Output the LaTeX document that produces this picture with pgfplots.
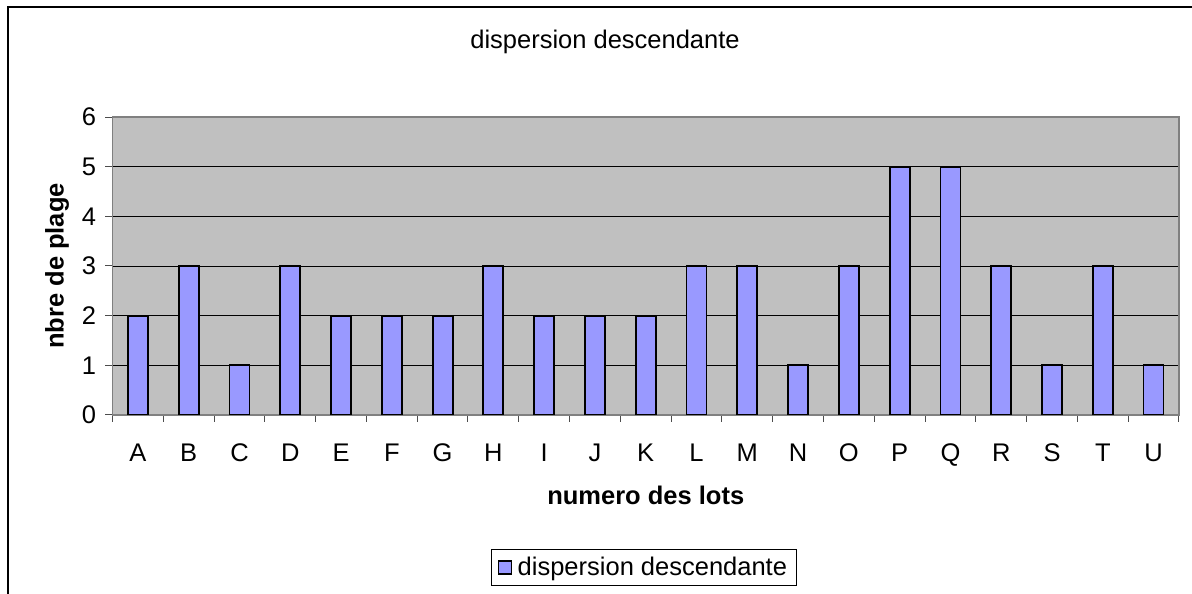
\documentclass[border=0pt]{standalone}
\usepackage{pgfplots}
\pgfplotsset{compat=1.18}
\usepackage{fontspec}
\setmainfont{Liberation Sans}
\definecolor{barblue}{HTML}{9999FF}
\definecolor{plotgray}{HTML}{C0C0C0}
\definecolor{framegray}{HTML}{808080}
\begin{document}
\begin{tikzpicture}
\useasboundingbox (0pt,0pt) rectangle (1192pt,594pt);
\draw[line width=2pt] (8pt,0pt) -- (8pt,587pt) -- (1192pt,587pt);
\node[font=\fontsize{25.5}{30}\selectfont] at (605pt,552pt) {dispersion descendante};
\node[font=\fontsize{25.5}{30}\selectfont\bfseries, rotate=90] at (57pt,328pt) {nbre de plage};
\begin{axis}[
  at={(112.5pt,179pt)}, anchor=south west,
  width=1066.5pt, height=298pt, scale only axis,
  xmin=-0.5, xmax=20.5, ymin=0, ymax=6,
  axis background/.style={fill=plotgray},
  axis line style={framegray, line width=1.2pt},
  xtick={0,...,20},
  xticklabels={A,B,C,D,E,F,G,H,I,J,K,L,M,N,O,P,Q,R,S,T,U},
  major x tick style={draw=none},
  minor xtick={-0.5,0.5,...,20.5},
  minor x tick style={black!70, line width=1pt},
  minor tick length=7pt,
  ytick={0,...,6},
  major y tick style={black!70, line width=1pt},
  major tick length=7pt,
  tick align=outside,
  xtick pos=bottom, ytick pos=left,
  ymajorgrids, grid style={black, line width=0.8pt},
  tick label style={font=\fontsize{25.5}{30}\selectfont},
  /pgf/number format/assume math mode=true,
  xticklabel style={yshift=-18pt},
  yticklabel style={xshift=-6pt},
  xlabel={\textbf{numero des lots}},
  label style={font=\fontsize{25.5}{30}\selectfont},
  xlabel style={at={(0.5,0)}, anchor=center, yshift=-80pt},
  legend style={at={(0.498,-0.51)}, anchor=center, draw=black, line width=0.8pt,
    font=\fontsize{25.5}{30}\selectfont, inner xsep=7pt, inner ysep=6pt,
    legend cell align=left},
]
\addplot[ybar, bar width=20pt, fill=barblue, draw=black, line width=1.8pt,
  legend image code/.code={\draw[fill=barblue, draw=black, line width=1.2pt] (0pt,-7pt) rectangle (13pt,6pt);
    \path[draw=none, fill=none] (0pt,0pt) -- (17pt,0pt);}]
  coordinates {(0,2) (1,3) (2,1) (3,3) (4,2) (5,2) (6,2) (7,3) (8,2) (9,2) (10,2)
               (11,3) (12,3) (13,1) (14,3) (15,5) (16,5) (17,3) (18,1) (19,3) (20,1)};
\addlegendentry{dispersion descendante}
\end{axis}
\end{tikzpicture}
\end{document}
